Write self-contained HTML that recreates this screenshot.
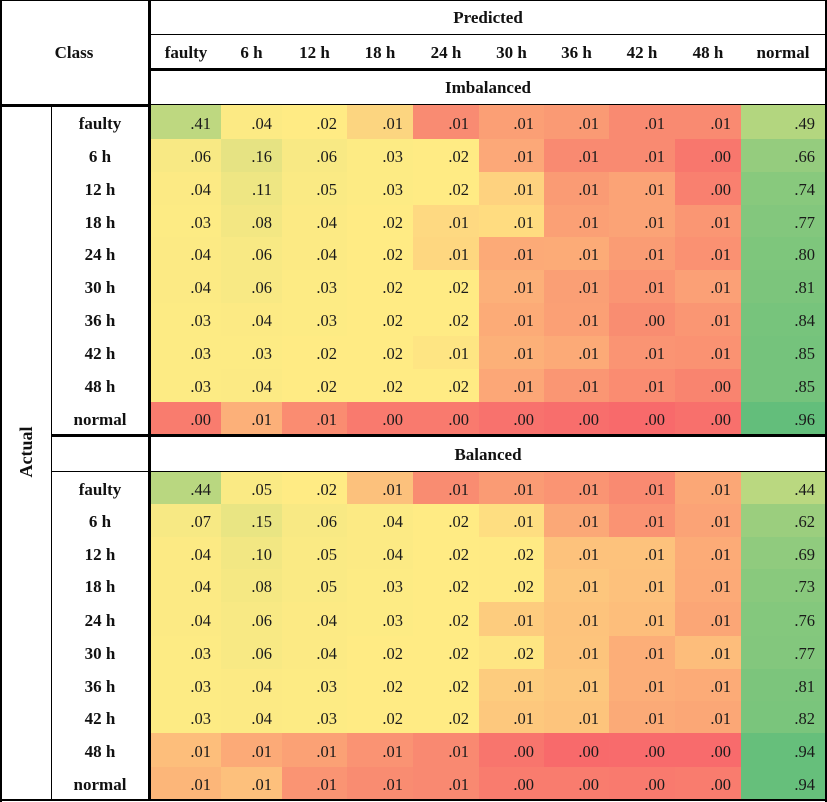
<!DOCTYPE html>
<html><head><meta charset="utf-8">
<style>
*{margin:0;padding:0;box-sizing:border-box}
html,body{width:827px;height:802px;background:#fff;overflow:hidden}
body{position:relative;font-family:"Liberation Serif",serif;color:#111}
.ln{position:absolute;background:#000;z-index:5}
.t{position:absolute;font-weight:bold;font-size:17px;text-align:center;white-space:nowrap}
.r{position:absolute;left:52px;display:flex}
.r div{height:100%;text-align:center;font-weight:bold;font-size:17px;width:99px;padding-right:3px;padding-top:3px;display:flex;align-items:center;justify-content:center;background:#fff}
.r span{height:100%;display:flex;align-items:center;justify-content:flex-end;padding-right:10px;padding-top:3px;font-size:16.5px;background:#FFEB84;color:#1a1a1a}
.r span:nth-child(2){width:70px}
.r span:nth-child(3){width:61px}
.r span:nth-child(4){width:65px}
.r span:nth-child(5){width:66px}
.r span:nth-child(6){width:66px}
.r span:nth-child(7){width:65px}
.r span:nth-child(8){width:65px}
.r span:nth-child(9){width:66px}
.r span:nth-child(10){width:66px}
.r span:nth-child(11){width:84px}
.hd{position:absolute;top:36px;left:151px;height:33px;display:flex}
.hd b{display:flex;align-items:center;justify-content:center;height:100%;font-size:17px}
</style></head><body>

<!-- header texts -->
<div class="t" style="left:0;top:1px;width:148px;height:104px;line-height:104px;">Class</div>
<div class="t" style="left:151px;top:1px;width:674px;height:33px;line-height:33px;">Predicted</div>
<div class="hd">
<b style="width:70px">faulty</b><b style="width:61px">6 h</b><b style="width:65px">12 h</b><b style="width:66px">18 h</b><b style="width:66px">24 h</b><b style="width:65px">30 h</b><b style="width:65px">36 h</b><b style="width:66px">42 h</b><b style="width:66px">48 h</b><b style="width:84px">normal</b>
</div>
<div class="t" style="left:151px;top:71px;width:674px;height:33px;line-height:33px;">Imbalanced</div>
<div class="t" style="left:151px;top:438px;width:674px;height:34px;line-height:34px;">Balanced</div>
<div class="t" style="left:-4px;top:440px;width:60px;height:24px;line-height:24px;font-size:18px;transform:rotate(-90deg);">Actual</div>

<!-- Imbalanced rows -->
<div class="r" style="top:105px;height:34px"><div>faulty</div><span style="background:#BED880">.41</span><span style="background:#FCEA84">.04</span><span>.02</span><span style="background:#FCD580">.01</span><span style="background:#F98B72">.01</span><span style="background:#FB9F75">.01</span><span style="background:#FA9A74">.01</span><span style="background:#F98A71">.01</span><span style="background:#F98A71">.01</span><span style="background:#B3D67F">.49</span></div>
<div class="r" style="top:139px;height:33px"><div>6 h</div><span style="background:#F8E984">.06</span><span style="background:#E6E383">.16</span><span style="background:#F8E984">.06</span><span style="background:#FDEB84">.03</span><span>.02</span><span style="background:#FCA878">.01</span><span style="background:#F98A71">.01</span><span style="background:#F98A71">.01</span><span style="background:#F8776D">.00</span><span style="background:#95CC7E">.66</span></div>
<div class="r" style="top:172px;height:33px"><div>12 h</div><span style="background:#FCEA84">.04</span><span style="background:#EEE683">.11</span><span style="background:#FAEA84">.05</span><span style="background:#FDEB84">.03</span><span>.02</span><span style="background:#FED27F">.01</span><span style="background:#FA9B74">.01</span><span style="background:#FBA376">.01</span><span style="background:#F9806F">.00</span><span style="background:#88C97D">.74</span></div>
<div class="r" style="top:205px;height:32px"><div>18 h</div><span style="background:#FDEB84">.03</span><span style="background:#F3E783">.08</span><span style="background:#FCEA84">.04</span><span>.02</span><span style="background:#FED981">.01</span><span style="background:#FFDC80">.01</span><span style="background:#FBA075">.01</span><span style="background:#FBA376">.01</span><span style="background:#FA9673">.01</span><span style="background:#83C77D">.77</span></div>
<div class="r" style="top:237px;height:33px"><div>24 h</div><span style="background:#FCEA84">.04</span><span style="background:#F8E984">.06</span><span style="background:#FCEA84">.04</span><span>.02</span><span style="background:#FED780">.01</span><span style="background:#FCAA77">.01</span><span style="background:#FCAB77">.01</span><span style="background:#FA9C74">.01</span><span style="background:#FA9172">.01</span><span style="background:#7EC67C">.80</span></div>
<div class="r" style="top:270px;height:33px"><div>30 h</div><span style="background:#FCEA84">.04</span><span style="background:#F8E984">.06</span><span style="background:#FDEB84">.03</span><span>.02</span><span>.02</span><span style="background:#FCB079">.01</span><span style="background:#FA9F75">.01</span><span style="background:#FA9573">.01</span><span style="background:#FBA076">.01</span><span style="background:#7CC57C">.81</span></div>
<div class="r" style="top:303px;height:33px"><div>36 h</div><span style="background:#FDEB84">.03</span><span style="background:#FCEA84">.04</span><span style="background:#FDEB84">.03</span><span>.02</span><span>.02</span><span style="background:#FCAB77">.01</span><span style="background:#FBA075">.01</span><span style="background:#F98D71">.00</span><span style="background:#FA9673">.01</span><span style="background:#77C47C">.84</span></div>
<div class="r" style="top:336px;height:33px"><div>42 h</div><span style="background:#FDEB84">.03</span><span style="background:#FDEB84">.03</span><span>.02</span><span>.02</span><span style="background:#FEE583">.01</span><span style="background:#FCB078">.01</span><span style="background:#FCAA77">.01</span><span style="background:#FA9473">.01</span><span style="background:#FA9272">.01</span><span style="background:#75C37C">.85</span></div>
<div class="r" style="top:369px;height:33px"><div>48 h</div><span style="background:#FDEB84">.03</span><span style="background:#FCEA84">.04</span><span>.02</span><span>.02</span><span>.02</span><span style="background:#FCA777">.01</span><span style="background:#FA9673">.01</span><span style="background:#FA8C71">.01</span><span style="background:#F9846F">.00</span><span style="background:#75C37C">.85</span></div>
<div class="r" style="top:402px;height:32px"><div>normal</div><span style="background:#F97C6E">.00</span><span style="background:#FCB079">.01</span><span style="background:#FA8C71">.01</span><span style="background:#F97A6E">.00</span><span style="background:#F97A6E">.00</span><span style="background:#F8726D">.00</span><span style="background:#F86E6C">.00</span><span style="background:#F86A6B">.00</span><span style="background:#F8706C">.00</span><span style="background:#63BE7B">.96</span></div>

<!-- Balanced rows -->
<div class="r" style="top:472px;height:32px"><div>faulty</div><span style="background:#B9D780">.44</span><span style="background:#FAEA84">.05</span><span>.02</span><span style="background:#FCC17C">.01</span><span style="background:#F98C71">.01</span><span style="background:#FA9B74">.01</span><span style="background:#FA9473">.01</span><span style="background:#F98A71">.01</span><span style="background:#FBA776">.01</span><span style="background:#BAD880">.44</span></div>
<div class="r" style="top:504px;height:33px"><div>6 h</div><span style="background:#F7E984">.07</span><span style="background:#E9E583">.15</span><span style="background:#F8E984">.06</span><span style="background:#FCEA84">.04</span><span>.02</span><span style="background:#FEDE81">.01</span><span style="background:#FBA877">.01</span><span style="background:#FA9373">.01</span><span style="background:#FBA376">.01</span><span style="background:#9BCE7E">.62</span></div>
<div class="r" style="top:537px;height:32px"><div>12 h</div><span style="background:#FCEA84">.04</span><span style="background:#F2E783">.10</span><span style="background:#FAEA84">.05</span><span style="background:#FCEA84">.04</span><span>.02</span><span style="background:#FFEA84">.02</span><span style="background:#FDC27C">.01</span><span style="background:#FDC27C">.01</span><span style="background:#FCAB77">.01</span><span style="background:#90CB7E">.69</span></div>
<div class="r" style="top:569px;height:33px"><div>18 h</div><span style="background:#FCEA84">.04</span><span style="background:#F5E883">.08</span><span style="background:#FAEA84">.05</span><span style="background:#FDEB84">.03</span><span>.02</span><span style="background:#FFEA84">.02</span><span style="background:#FDC67D">.01</span><span style="background:#FDC17C">.01</span><span style="background:#FCAA77">.01</span><span style="background:#89C97D">.73</span></div>
<div class="r" style="top:602px;height:34px"><div>24 h</div><span style="background:#FCEA84">.04</span><span style="background:#F8E984">.06</span><span style="background:#FCEA84">.04</span><span style="background:#FDEB84">.03</span><span>.02</span><span style="background:#FDCC7E">.01</span><span style="background:#FDC37C">.01</span><span style="background:#FDBE7B">.01</span><span style="background:#FBA676">.01</span><span style="background:#84C87D">.76</span></div>
<div class="r" style="top:636px;height:33px"><div>30 h</div><span style="background:#FDEB84">.03</span><span style="background:#F8E984">.06</span><span style="background:#FCEA84">.04</span><span>.02</span><span>.02</span><span style="background:#FEE683">.02</span><span style="background:#FDC47C">.01</span><span style="background:#FCAE78">.01</span><span style="background:#FDBD7B">.01</span><span style="background:#83C77D">.77</span></div>
<div class="r" style="top:669px;height:32px"><div>36 h</div><span style="background:#FDEB84">.03</span><span style="background:#FCEA84">.04</span><span style="background:#FDEB84">.03</span><span>.02</span><span>.02</span><span style="background:#FDCC7E">.01</span><span style="background:#FDC77D">.01</span><span style="background:#FCAE78">.01</span><span style="background:#FCAB77">.01</span><span style="background:#7CC57C">.81</span></div>
<div class="r" style="top:701px;height:32px"><div>42 h</div><span style="background:#FDEB84">.03</span><span style="background:#FCEA84">.04</span><span style="background:#FDEB84">.03</span><span>.02</span><span>.02</span><span style="background:#FDC87D">.01</span><span style="background:#FDC47C">.01</span><span style="background:#FBAA77">.01</span><span style="background:#FBA776">.01</span><span style="background:#7AC57C">.82</span></div>
<div class="r" style="top:733px;height:34px"><div>48 h</div><span style="background:#FDBE7B">.01</span><span style="background:#FCAA77">.01</span><span style="background:#FBA175">.01</span><span style="background:#FA9373">.01</span><span style="background:#F98971">.01</span><span style="background:#F8756D">.00</span><span style="background:#F86A6B">.00</span><span style="background:#F86B6C">.00</span><span style="background:#F86B6C">.00</span><span style="background:#66BF7B">.94</span></div>
<div class="r" style="top:767px;height:32px"><div>normal</div><span style="background:#FCB679">.01</span><span style="background:#FDC07C">.01</span><span style="background:#FA9473">.01</span><span style="background:#F98C71">.01</span><span style="background:#F98971">.01</span><span style="background:#F97C6E">.00</span><span style="background:#F97C6E">.00</span><span style="background:#F97A6E">.00</span><span style="background:#F97C6E">.00</span><span style="background:#66BF7B">.94</span></div>

<!-- lines -->
<div class="ln" style="left:0;top:0;width:827px;height:1px"></div>
<div class="ln" style="left:0;top:0;width:2px;height:802px"></div>
<div class="ln" style="left:825px;top:0;width:2px;height:802px"></div>
<div class="ln" style="left:0;top:799px;width:827px;height:2px"></div>
<div class="ln" style="left:148px;top:0;width:3px;height:801px"></div>
<div class="ln" style="left:51px;top:105px;width:1px;height:696px"></div>
<div class="ln" style="left:151px;top:34px;width:675px;height:1px"></div>
<div class="ln" style="left:151px;top:68px;width:675px;height:3px"></div>
<div class="ln" style="left:0;top:104px;width:151px;height:3px"></div>
<div class="ln" style="left:151px;top:104px;width:675px;height:1px"></div>
<div class="ln" style="left:51px;top:434px;width:775px;height:3px"></div>
<div class="ln" style="left:51px;top:471px;width:775px;height:1px"></div>
</body></html>
